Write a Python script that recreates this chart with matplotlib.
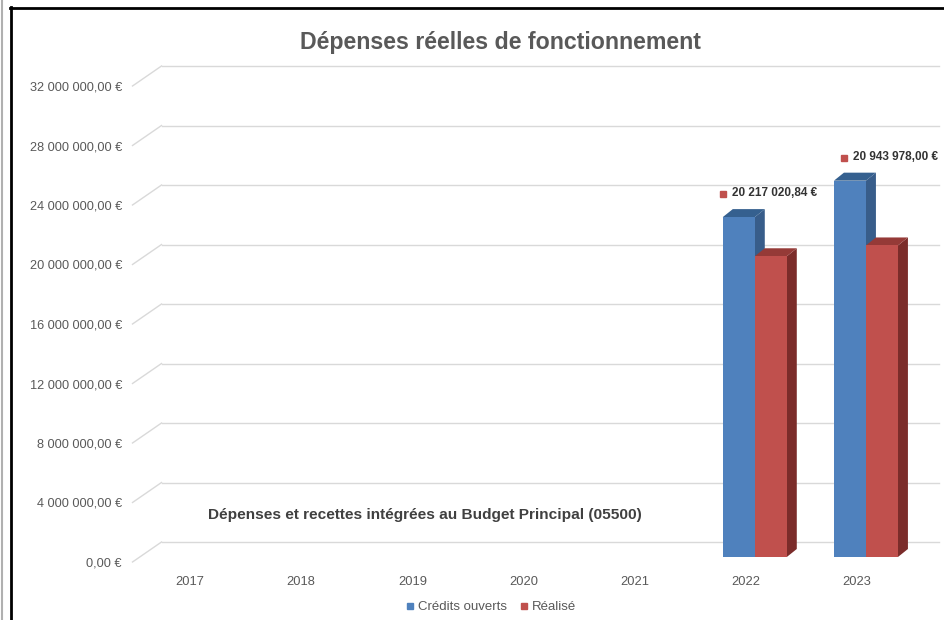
import matplotlib
matplotlib.use('Agg')
import matplotlib.pyplot as plt
from matplotlib.patches import Polygon
from matplotlib.lines import Line2D
from matplotlib.transforms import ScaledTranslation

plt.rcParams['font.family'] = ['Liberation Sans', 'DejaVu Sans']

years = ['2017', '2018', '2019', '2020', '2021', '2022', '2023']
credits_ouverts = [0, 0, 0, 0, 0, 22850000, 25300000]
realise = [0, 0, 0, 0, 0, 20217020.84, 20943978.00]
yticks = [0, 4e6, 8e6, 12e6, 16e6, 20e6, 24e6, 28e6, 32e6]

def fmt_eur(v):
    s = '{:,.2f}'.format(v).replace(',', ' ').replace('.', ',')
    return s + ' €'

W, H = 945, 620
fig = plt.figure(figsize=(W / 100, H / 100), dpi=100)
ax = fig.add_axes([134.5 / W, 58 / H, 778 / W, 476 / H])
ax.set_xlim(-0.5, 6.5)
ax.set_ylim(0, 32e6)

# pixel -> data unit helpers (for the fake 3d depth)
def ux(px):
    return px * 7 / 778.0

def uy(px):
    return px * 32e6 / 476.0

grid_col = '#d9d9d9'
# back wall gridlines + diagonals
bx, by = ux(27), uy(20)
for t in yticks:
    ax.plot([-0.5 + bx, 6.5 + bx], [t + by, t + by], color=grid_col, lw=1, clip_on=False, zorder=1)
    ax.plot([-0.5 - ux(2), -0.5 + bx], [t, t + by], color=grid_col, lw=1, clip_on=False, zorder=1)

# bars (front plane slightly behind axis front)
w = ux(32)
sx, sy = ux(9), uy(5)
ddx, ddy = ux(10), uy(8)
series = [(credits_ouverts, '#4f81bd', '#385d8a', '#35608f', 'Crédits ouverts', -1),
          (realise, '#c0504d', '#7b2c2a', '#953a37', 'Réalisé', 0)]
for vals, c_front, c_side, c_top, name, k in series:
    for i, v in enumerate(vals):
        if v <= 0:
            continue
        L = i + sx + k * w
        R = L + w
        B = sy
        T = sy + v
        ax.add_patch(Polygon([(R, B), (R + ddx, B + ddy), (R + ddx, T + ddy), (R, T)],
                             closed=True, facecolor=c_side, edgecolor='none', clip_on=False, zorder=3))
        ax.add_patch(Polygon([(L, T), (R, T), (R + ddx, T + ddy), (L + ddx, T + ddy)],
                             closed=True, facecolor=c_top, edgecolor='none', clip_on=False, zorder=3))
        ax.bar(L, v, width=w, bottom=B, align='edge', color=c_front, zorder=3, clip_on=False)

# data labels of "Réalisé" placed above the bars
for i, v in enumerate(realise):
    if v <= 0:
        continue
    L = i + sx - w
    top = credits_ouverts[i] + sy
    dxp = 0 if i == 5 else 10
    ax.plot([L], [top], marker='s', ms=4.2, color='#c0504d', ls='none', clip_on=False,
            transform=ax.transData + ScaledTranslation(dxp / 100, 23 / 100, fig.dpi_scale_trans))
    ax.annotate(fmt_eur(v), xy=(L, top), xytext=(dxp + 9, 24), textcoords='offset pixels',
                color='#333333', fontsize=8.5, fontweight='bold', ha='left', va='center')

ax.set_yticks(yticks)
ax.set_yticklabels([fmt_eur(t) for t in yticks])
ax.set_xticks(range(len(years)))
ax.set_xticklabels(years)
ax.tick_params(axis='y', length=0, pad=9, labelsize=9.2, labelcolor='#595959')
ax.tick_params(axis='x', length=0, pad=10, labelsize=9.3, labelcolor='#595959')
for s in ax.spines.values():
    s.set_visible(False)
ax.patch.set_visible(False)

fig.text(500 / W, 1 - 42 / H, 'Dépenses réelles de fonctionnement', ha='center', va='center',
         fontsize=16.7, fontweight='bold', color='#595959')
fig.text(425 / W, 1 - 515 / H, 'Dépenses et recettes intégrées au Budget Principal (05500)',
         ha='center', va='center', fontsize=11.1, fontweight='bold', color='#404040')

handles = [Line2D([], [], marker='s', ls='none', color='#4f81bd', markersize=5),
           Line2D([], [], marker='s', ls='none', color='#c0504d', markersize=5)]
fig.legend(handles, ['Crédits ouverts', 'Réalisé'], loc='center', bbox_to_anchor=(491 / W, 1 - 607 / H),
           ncol=2, frameon=False, fontsize=9.5, handlelength=0.6, handletextpad=0.3, columnspacing=1.0,
           labelcolor='#595959')

# page frame
fig.add_artist(Line2D([2 / W, 2 / W], [0, 1], color='#b0b0b0', lw=1.5))
fig.add_artist(Line2D([11 / W, 11 / W], [0, 1 - 7 / H], color='black', lw=2))
fig.add_artist(Line2D([10 / W, 1], [1 - 8 / H, 1 - 8 / H], color='black', lw=2))

fig.savefig('out.png', dpi=100)
